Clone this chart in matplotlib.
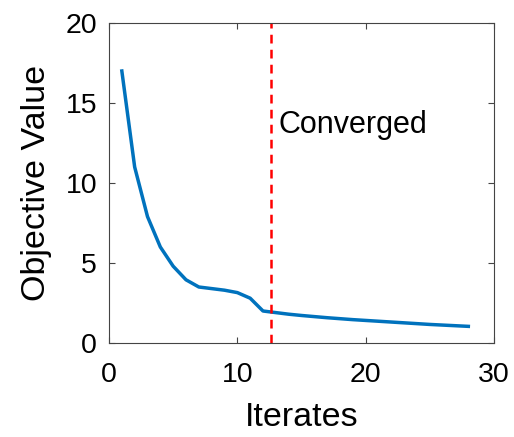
import matplotlib
matplotlib.use("Agg")
from matplotlib import pyplot as plt

iters = list(range(1, 29))
obj = [17.0, 11.0, 7.9, 6.0, 4.8, 3.95, 3.5, 3.4, 3.3, 3.15, 2.8, 2.0,
       1.9, 1.8, 1.72, 1.65, 1.58, 1.52, 1.46, 1.41, 1.36, 1.31, 1.26,
       1.21, 1.16, 1.12, 1.08, 1.04]
conv_iter = 12.65

plt.rcParams['font.family'] = ['Liberation Sans', 'DejaVu Sans']

fig = plt.figure(figsize=(5.14, 4.37), dpi=100)
ax = fig.add_axes([109 / 514, 1 - 343 / 437, 385 / 514, 320 / 437])
ax.plot(iters, obj, color='#0072BD', linewidth=2.5)
ax.axvline(conv_iter, color='red', linestyle=(0, (3.5, 2.5)), linewidth=1.8)
ax.text(13.2, 13.6, 'Converged', fontsize=22, va='center', ha='left')
ax.set_xlim(0, 30)
ax.set_ylim(0, 20)
ax.set_xticks([0, 10, 20, 30])
ax.set_yticks([0, 5, 10, 15, 20])
ax.tick_params(direction='in', top=True, right=True, labelsize=20.5,
               length=4, width=0.8, color='#444444', pad=8.5)
ax.tick_params(axis='x', pad=14)
for s in ax.spines.values():
    s.set_color('#444444')
    s.set_linewidth(0.8)
ax.set_xlabel('Iterates', fontsize=24.5, labelpad=10)
ax.set_ylabel('Objective Value', fontsize=24.5, labelpad=10)
fig.savefig('out.png', dpi=100)
